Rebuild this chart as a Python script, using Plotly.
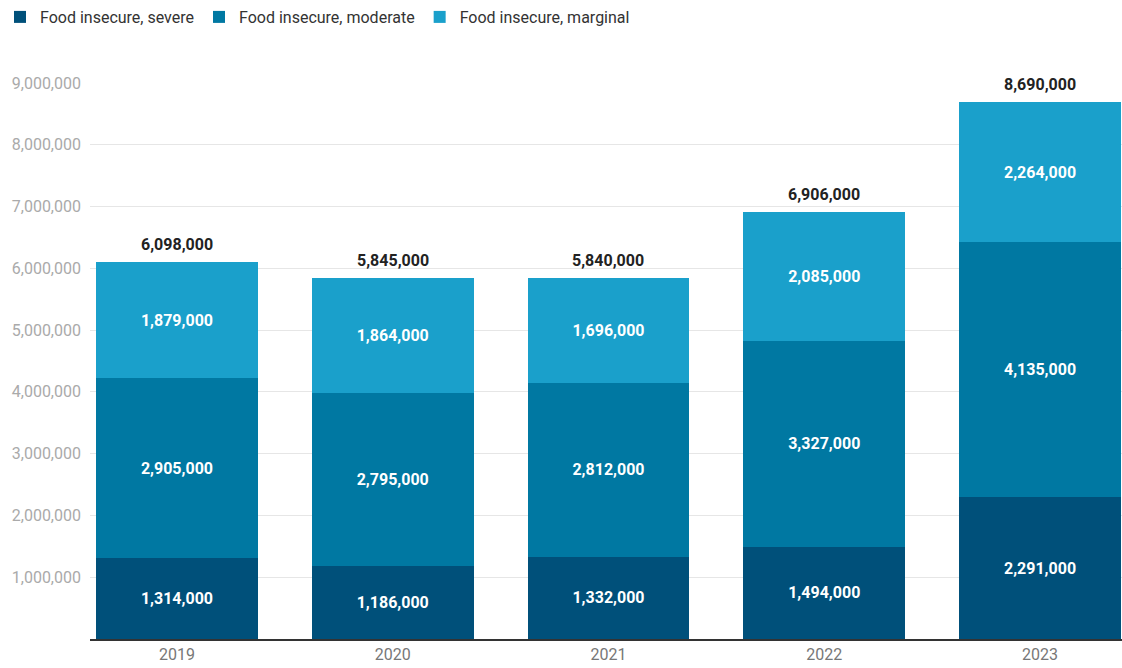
import plotly.graph_objects as go

years = ["2019", "2020", "2021", "2022", "2023"]
severe = [1314000, 1186000, 1332000, 1494000, 2291000]
moderate = [2905000, 2795000, 2812000, 3327000, 4135000]
marginal = [1879000, 1864000, 1696000, 2085000, 2264000]
totals = [6098000, 5845000, 5840000, 6906000, 8690000]
y_ticks = [1000000, 2000000, 3000000, 4000000, 5000000, 6000000, 7000000, 8000000, 9000000]

series = [
    ("Food insecure, severe", severe, "#00507a"),
    ("Food insecure, moderate", moderate, "#0078a2"),
    ("Food insecure, marginal", marginal, "#1aa0cb"),
]

fig = go.Figure()
for name, vals, color in series:
    fig.add_trace(go.Bar(
        x=years, y=vals, name=name,
        marker=dict(color=color, line=dict(width=0)),
        text=[f"{v:,}" for v in vals],
        textposition="inside", insidetextanchor="middle",
        textfont=dict(family="Roboto", size=16, color="white", weight="bold"),
        hoverinfo="skip",
    ))

for i, tot in enumerate(totals):
    fig.add_annotation(
        x=i, y=tot, xref="x", yref="y", text=f"{tot:,}", showarrow=False,
        yanchor="bottom", yshift=6,
        font=dict(family="Roboto", size=16, color="#222222", weight="bold"),
    )

fig.update_layout(
    barmode="stack",
    bargap=0.25,
    width=1122, height=668,
    margin=dict(l=90, r=0, t=83, b=29),
    paper_bgcolor="white", plot_bgcolor="white",
    font=dict(family="Roboto", size=15, color="#999999"),
    legend=dict(
        orientation="h", x=0, y=1, xref="container", yref="container",
        xanchor="left", yanchor="top",
        font=dict(family="Roboto", size=16, color="#333333"),
        itemwidth=30, traceorder="normal",
    ),
    xaxis=dict(
        type="category", range=[-0.403, 4.38],
        showgrid=False, showline=True, linecolor="#333333", linewidth=1.5,
        ticks="", tickfont=dict(size=16, color="#777777"),
    ),
    yaxis=dict(
        range=[0, 9000000], tickvals=y_ticks,
        ticktext=[f"{v:,}" for v in y_ticks],
        showgrid=True, gridcolor="#e6e6e6", gridwidth=1,
        zeroline=False, ticks="", ticklabelstandoff=8,
        tickfont=dict(size=16, color="#aaaaaa"),
    ),
)

fig.write_html("out.html")
